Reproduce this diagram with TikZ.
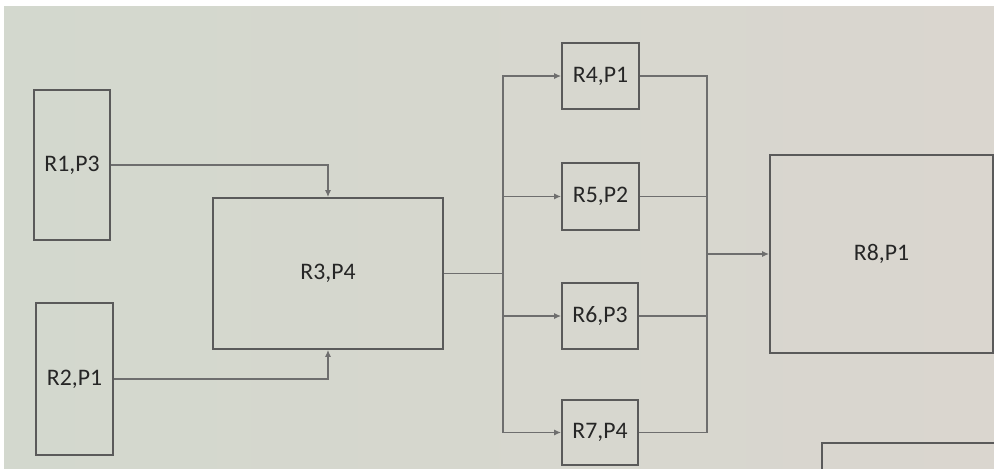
\documentclass[tikz,border=0pt]{standalone}
\usepackage{fontspec}
\setmainfont{Carlito}
\usetikzlibrary{arrows.meta}
\definecolor{bgL}{HTML}{D3D8CE}
\definecolor{bgR}{HTML}{DAD6CF}
\definecolor{boxc}{HTML}{5A5A5A}
\definecolor{linec}{HTML}{6E6E6E}
\definecolor{txtc}{HTML}{262626}
\begin{document}
\begin{tikzpicture}[x=0.02cm,y=-0.02cm,
  blk/.style={draw=boxc,line width=1pt,fill=none,inner sep=0pt,text=txtc,font=\fontsize{13.5}{15}\selectfont},
  conn/.style={draw=linec,line width=0.8pt},
  arr/.style={conn,-{Latex[length=4pt,width=3.5pt]}}]
\useasboundingbox (0,0) rectangle (994,469);
\fill[white] (0,0) rectangle (994,469);
\shade[left color=bgL,right color=bgR] (4,7) rectangle (994,469);
% boxes
\node[blk,minimum width=1.52cm,minimum height=3.0cm] (r1) at (72,165) {R1,P3};
\node[blk,minimum width=1.54cm,minimum height=3.04cm] (r2) at (74.5,379) {R2,P1};
\node[blk,minimum width=4.6cm,minimum height=3.02cm] (r3) at (328,273.5) {R3,P4};
\node[blk,minimum width=1.54cm,minimum height=1.32cm] (r4) at (600.5,76) {R4,P1};
\node[blk,minimum width=1.54cm,minimum height=1.34cm] (r5) at (600.5,196.5) {R5,P2};
\node[blk,minimum width=1.52cm,minimum height=1.32cm] (r6) at (600,316) {R6,P3};
\node[blk,minimum width=1.52cm,minimum height=1.30cm] (r7) at (600,432.5) {R7,P4};
\node[blk,minimum width=4.46cm,minimum height=3.96cm] (r8) at (881.5,254) {R8,P1};
% partial box bottom right
\draw[boxc,line width=0.8pt] (822,469) -- (822,443) -- (994,443);
% junctions
\coordinate (jxa) at (503,0);
\coordinate (jxb) at (707,0);
\coordinate (j1) at (r3.east -| jxa);
\coordinate (j2) at (r8.west -| jxb);
% connectors
\draw[arr] (r1.east) -| (r3.north);
\draw[arr] (r2.east) -| (r3.south);
\draw[conn] (r3.east) -- (j1);
\draw[arr] (j1) |- (r4.west);
\draw[arr] (j1) |- (r5.west);
\draw[arr] (j1) |- (r6.west);
\draw[arr] (j1) |- (r7.west);
\draw[conn] (r4.east) -| (j2);
\draw[conn] (r5.east) -| (j2);
\draw[conn] (r6.east) -| (j2);
\draw[conn] (r7.east) -| (j2);
\draw[arr] (j2) -- (r8.west);
\end{tikzpicture}
\end{document}
